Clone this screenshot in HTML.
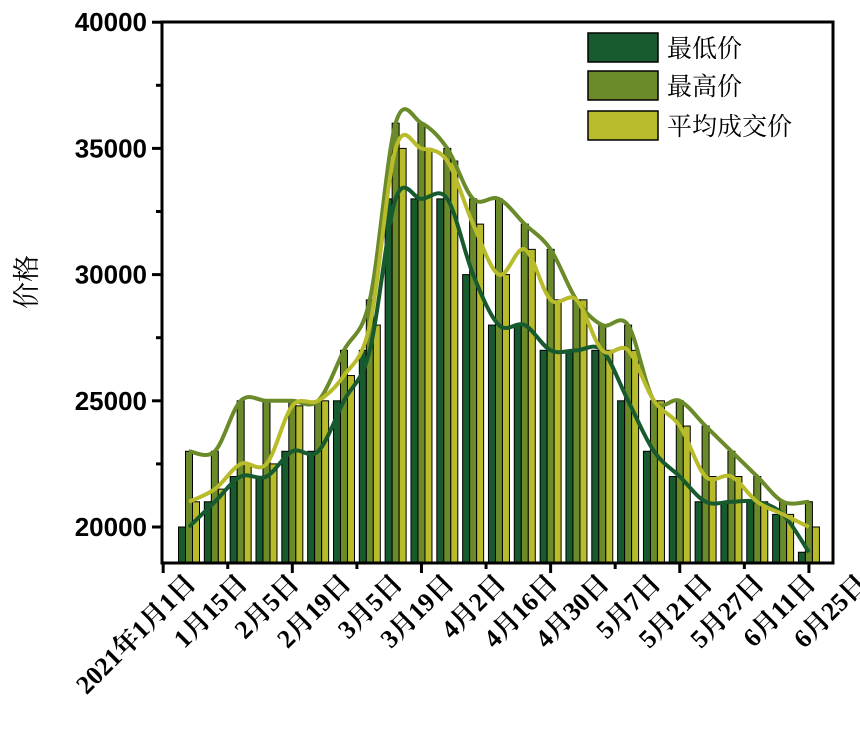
<!DOCTYPE html>
<html><head><meta charset="utf-8"><style>
body{margin:0;background:#fff}
svg text{font-family:"Liberation Serif","Noto Serif CJK SC",serif;font-weight:bold}
</style></head><body>
<svg id="c" width="860" height="724" xmlns="http://www.w3.org/2000/svg">
<g id="bars"></g>
<g id="lines"></g>
<g id="axes"></g>
<g id="legend"></g>
</svg>
<script>
const categories=["g0","g1","g2","g3","g4","g5","g6","g7","g8","g9","g10","g11","g12","g13","g14","g15","g16","g17","g18","g19","g20","g21","g22","g23","g24"];
const minPrice=[20000,21000,22000,22000,23000,23000,25000,27000,33000,33000,33000,30000,28000,28000,27000,27000,27000,25000,23000,22000,21000,21000,21000,20500,19000];
const maxPrice=[23000,23000,25000,25000,25000,25000,27000,29000,36000,36000,35000,33000,33000,32000,31000,29000,28000,28000,25000,25000,24000,23000,22000,21000,21000];
const avgPrice=[21000,21500,22500,22500,24800,25000,26000,28000,35000,35000,34500,32000,30000,31000,29000,29000,27000,27000,25000,24000,22000,22000,21000,20500,20000];
const xLabels=["2021年1月1日","1月15日","2月5日","2月19日","3月5日","3月19日","4月2日","4月16日","4月30日","5月7日","5月21日","5月27日","6月11日","6月25日"];
const yTicks=[20000,25000,30000,35000,40000];
const seriesNames=["最低价","最高价","平均成交价"];
const colors=["#165a2e","#6b8a2a","#b8bb2a"];
const NS="http://www.w3.org/2000/svg";
function el(t,a,p){const e=document.createElementNS(NS,t);for(const k in a)e.setAttribute(k,a[k]);p.appendChild(e);return e;}
const X0=189,STEP=25.83,Y20=527,PX=126.2/5000;
function x(i){return X0+i*STEP;}
function y(v){return Y20-(v-20000)*PX;}
const YB=563;
const bars=document.getElementById('bars');
const series=[minPrice,maxPrice,avgPrice];
const sNames=["min","max","avg"];
series.forEach((s,k)=>{
  s.forEach((v,i)=>{
    const bx=x(i)-10.5+k*7;
    const r=el('rect',{x:bx,y:y(v),width:7,height:YB-y(v),fill:colors[k],stroke:'#000','stroke-width':1},bars);
    
    
  });
});
const lines=document.getElementById('lines');
series.forEach((s,k)=>{
  const p=s.map((v,i)=>[x(i),y(v)]);
  let d='M'+p[0][0]+','+p[0][1];
  for(let i=0;i<p.length-1;i++){
    const p0=p[Math.max(0,i-1)],p1=p[i],p2=p[i+1],p3=p[Math.min(p.length-1,i+2)];
    const c1=[p1[0]+(p2[0]-p0[0])/6,p1[1]+(p2[1]-p0[1])/6];
    const c2=[p2[0]-(p3[0]-p1[0])/6,p2[1]-(p3[1]-p1[1])/6];
    d+=' C'+c1+' '+c2+' '+p2;
  }
  const l=el('path',{d:d,fill:'none',stroke:colors[k],'stroke-width':4},lines);
  
  
});
const ax=document.getElementById('axes');
const fr=el('rect',{x:162,y:22,width:671,height:YB-22,fill:'none',stroke:'#000','stroke-width':3},ax);


yTicks.forEach(v=>{
  el('line',{x1:152,y1:y(v),x2:162,y2:y(v),stroke:'#000','stroke-width':3},ax);
  const t=el('text',{x:147,y:y(v)+9,'text-anchor':'end','font-size':26,style:'font-family:"Liberation Sans",sans-serif'},ax);
  t.textContent=v;
  
  
});
yTicks.slice(0,-1).forEach(v=>{el('line',{x1:156,y1:y(v+2500),x2:162,y2:y(v+2500),stroke:'#000','stroke-width':3},ax);});
for(let j=0;j<6;j++){
  const xi=x(-1+5*j);
  el('line',{x1:xi,y1:YB,x2:xi,y2:YB+10,stroke:'#000','stroke-width':3},ax);
  if(j<5){const xm=x(1.5+5*j);el('line',{x1:xm,y1:YB,x2:xm,y2:YB+6,stroke:'#000','stroke-width':3},ax);}
}
xLabels.forEach((s,i)=>{
  const lx=x(2*i)+8,ly=YB+22;
  const t=el('text',{x:lx,y:ly,'text-anchor':'end','font-size':26,transform:'rotate(-45 '+lx+' '+ly+')'},ax);
  t.textContent=s;
  
  
});
const yt=el('text',{x:36,y:282,'text-anchor':'middle','font-size':27,transform:'rotate(-90 36 282)',style:'font-weight:normal'},ax);
yt.textContent='价格';


const lg=document.getElementById('legend');
const ly0=[33,71,111];
seriesNames.forEach((n,k)=>{
  const r=el('rect',{x:588,y:ly0[k],width:70,height:29,fill:colors[k],stroke:'#000','stroke-width':1.5},lg);
  
  
  const t=el('text',{x:667,y:ly0[k]+24,'font-size':25,style:'font-weight:normal'},lg);
  t.textContent=n;
  
  
});
</script>
</body></html>
